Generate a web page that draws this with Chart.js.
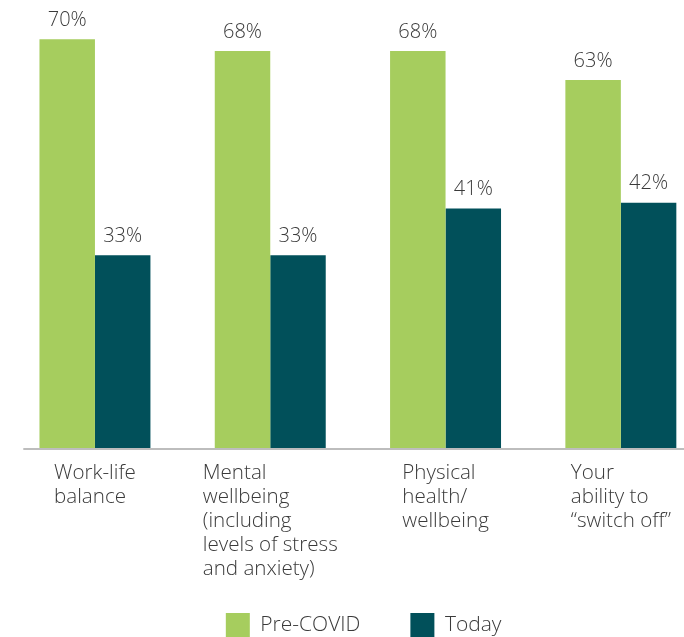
<!DOCTYPE html>
<html><head><meta charset="utf-8">
<script src="https://cdn.jsdelivr.net/npm/chart.js@4.4.1/dist/chart.umd.min.js"></script>
<style>
html,body{margin:0;padding:0;background:#fff;overflow:hidden}
#wrap{width:684px;height:637px;overflow:hidden;position:relative;background:#fff}
#box{width:720px;height:647px;position:absolute;left:0;top:0}
</style></head>
<body><div id="wrap"><div id="box"><canvas id="c"></canvas></div></div>
<script>
const categories = [
  ["Work-life", "balance"],
  ["Mental", "wellbeing", "(including", "levels of stress", "and anxiety)"],
  ["Physical", "health/", "wellbeing"],
  ["Your", "ability to", "\u201cswitch off\u201d"]
];
const seriesNames = ["Pre-COVID", "Today"];
const preCovid = [70, 68, 68, 63];
const today = [33, 33, 41, 42];

const GREEN = "#a6cd5e";
const TEAL = "#01505a";
const TEXT = "#3a3a3a";
const FONT = "'Open Sans', 'DejaVu Sans', sans-serif";

const valueLabels = {
  id: "valueLabels",
  afterDatasetsDraw(chart) {
    const ctx = chart.ctx;
    ctx.save();
    ctx.fillStyle = TEXT;
    ctx.font = "300 20px " + FONT;
    ctx.textAlign = "center";
    ctx.textBaseline = "middle";
    chart.data.datasets.forEach((ds, di) => {
      chart.getDatasetMeta(di).data.forEach((bar, i) => {
        ctx.fillText(ds.data[i] + "%", bar.x, bar.y - 19);
      });
    });
    ctx.restore();
  }
};

const categoryLabels = {
  id: "categoryLabels",
  beforeDatasetsDraw(chart) {
    const ctx = chart.ctx, area = chart.chartArea;
    ctx.save();
    ctx.strokeStyle = "#bdbdbd";
    ctx.lineWidth = 2;
    ctx.beginPath();
    ctx.moveTo(area.left + 16, area.bottom + 1);
    ctx.lineTo(chart.width, area.bottom + 1);
    ctx.stroke();
    ctx.restore();
  },
  afterDraw(chart) {
    const ctx = chart.ctx, area = chart.chartArea, xs = chart.scales.x;
    ctx.save();
    ctx.fillStyle = TEXT;
    ctx.font = "300 20.6px " + FONT;
    ctx.textAlign = "left";
    ctx.textBaseline = "middle";
    categories.forEach((lines, i) => {
      const cx = xs.getPixelForValue(i);
      const w = Math.max(...lines.map(l => ctx.measureText(l).width));
      lines.forEach((l, j) => {
        ctx.fillText(l, cx - w / 2, area.bottom + 25 + j * 24);
      });
    });
    ctx.restore();
  }
};

new Chart(document.getElementById("c"), {
  type: "bar",
  data: {
    labels: categories.map(c => c.join(" ")),
    datasets: [
      { label: seriesNames[0], data: preCovid, backgroundColor: GREEN },
      { label: seriesNames[1], data: today, backgroundColor: TEAL }
    ]
  },
  options: {
    responsive: true,
    maintainAspectRatio: false,
    animation: false,
    devicePixelRatio: 1,
    layout: { padding: { left: 7.3, right: 0, top: 10, bottom: 0 } },
    datasets: { bar: { barPercentage: 1, categoryPercentage: 0.633 } },
    scales: {
      x: {
        grid: { display: false },
        border: { display: false },
        ticks: { display: false },
        afterFit(scale) { scale.height = 115; }
      },
      y: {
        position: "right",
        min: 0,
        max: 75,
        grid: { display: false },
        border: { display: false },
        ticks: { display: false },
        afterFit(scale) { scale.width = 11.5; }
      }
    },
    plugins: {
      tooltip: { enabled: false },
      legend: {
        position: "bottom",
        labels: {
          boxWidth: 24,
          boxHeight: 24,
          padding: 50,
          color: TEXT,
          font: { size: 21, weight: 300, family: FONT }
        }
      }
    }
  },
  plugins: [valueLabels, categoryLabels]
});
</script>
</body></html>
